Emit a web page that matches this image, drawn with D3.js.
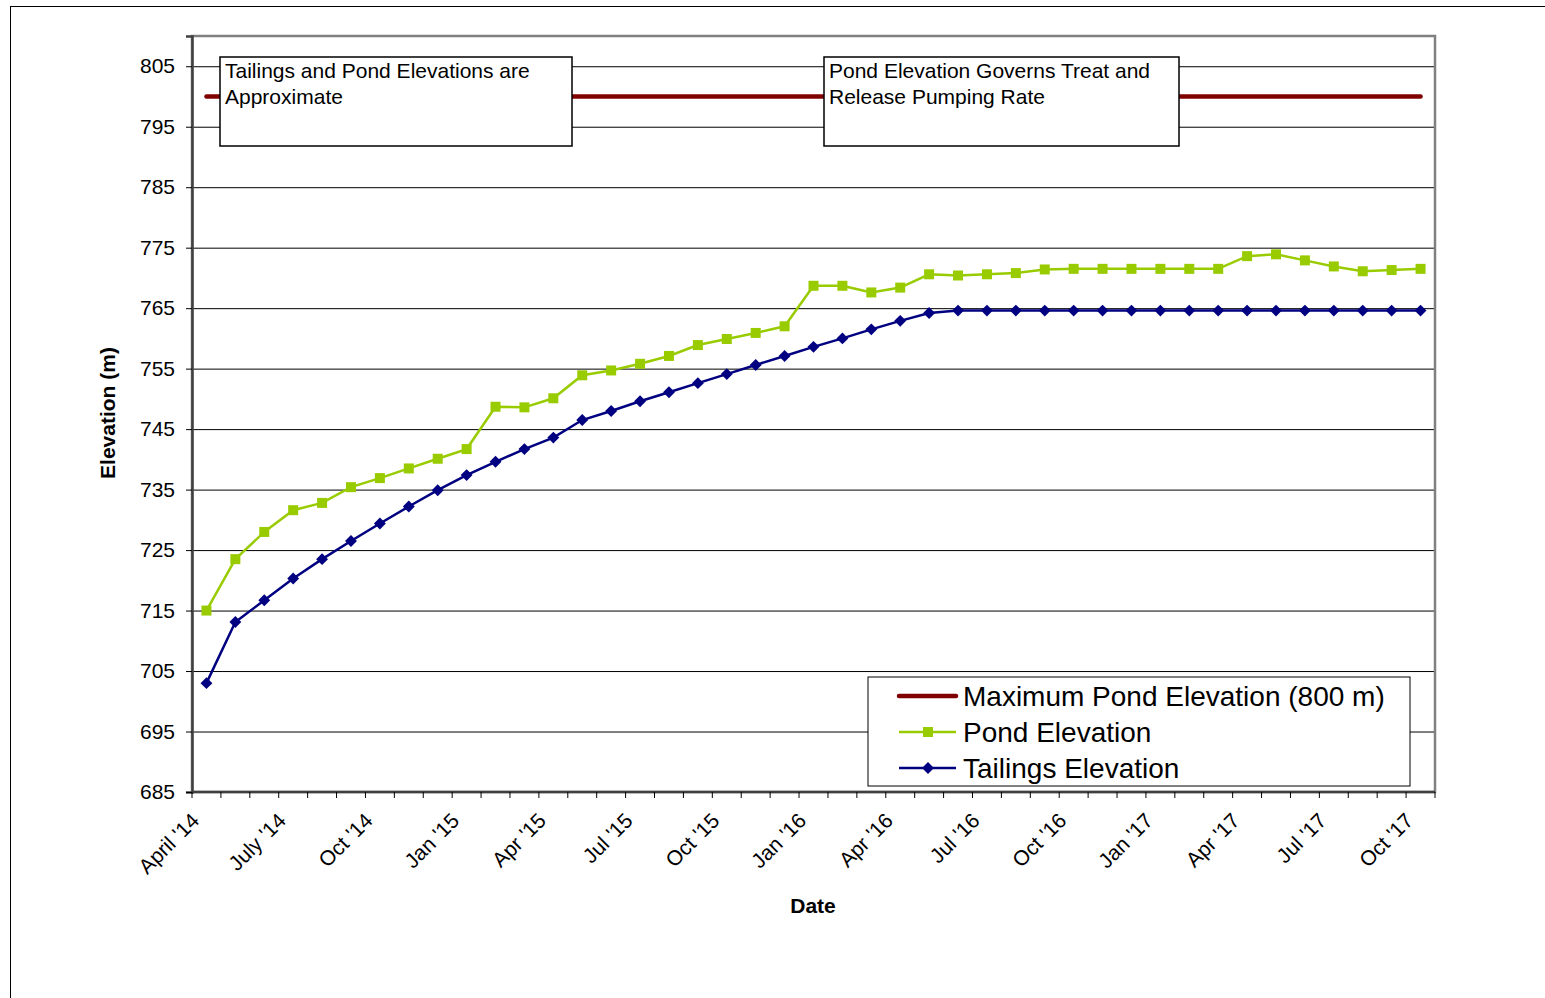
<!DOCTYPE html>
<html>
<head>
<meta charset="utf-8">
<script src="https://cdn.jsdelivr.net/npm/d3@7"></script>
<style>
  html, body { margin: 0; padding: 0; background: #fff; }
  svg { display: block; font-family: "Liberation Sans", Arial, sans-serif; }
</style>
</head>
<body>
<svg id="chart" width="1545" height="998"></svg>
<script>
// ---------- DATA ----------
const months = ["Apr 2014","May 2014","Jun 2014","Jul 2014","Aug 2014","Sep 2014","Oct 2014","Nov 2014","Dec 2014",
  "Jan 2015","Feb 2015","Mar 2015","Apr 2015","May 2015","Jun 2015","Jul 2015","Aug 2015","Sep 2015","Oct 2015","Nov 2015","Dec 2015",
  "Jan 2016","Feb 2016","Mar 2016","Apr 2016","May 2016","Jun 2016","Jul 2016","Aug 2016","Sep 2016","Oct 2016","Nov 2016","Dec 2016",
  "Jan 2017","Feb 2017","Mar 2017","Apr 2017","May 2017","Jun 2017","Jul 2017","Aug 2017","Sep 2017","Oct 2017"];
const tickLabels = ["April '14","","","July '14","","","Oct '14","","","Jan '15","","","Apr '15","","","Jul '15","","","Oct '15","","",
  "Jan '16","","","Apr '16","","","Jul '16","","","Oct '16","","","Jan '17","","","Apr '17","","","Jul '17","","","Oct '17"];
const maxPond = [800,800,800,800,800,800,800,800,800,800,800,800,800,800,800,800,800,800,800,800,800,
  800,800,800,800,800,800,800,800,800,800,800,800,800,800,800,800,800,800,800,800,800,800];
const pond = [715.0,723.5,728.0,731.6,732.8,735.4,736.9,738.5,740.1,741.7,748.7,748.6,750.1,753.9,754.7,755.8,757.1,758.9,759.9,760.9,762.0,
  768.7,768.7,767.6,768.4,770.6,770.4,770.6,770.8,771.4,771.5,771.5,771.5,771.5,771.5,771.5,773.6,773.9,772.9,771.9,771.1,771.3,771.5];
const tailings = [703.0,713.1,716.7,720.3,723.5,726.5,729.4,732.2,734.9,737.4,739.6,741.7,743.6,746.5,748.0,749.6,751.1,752.6,754.1,755.6,757.1,
  758.6,760.0,761.5,762.9,764.2,764.6,764.6,764.6,764.6,764.6,764.6,764.6,764.6,764.6,764.6,764.6,764.6,764.6,764.6,764.6,764.6,764.6];
const yTicks = [685,695,705,715,725,735,745,755,765,775,785,795,805];
const legendNames = ["Maximum Pond Elevation (800 m)","Pond Elevation","Tailings Elevation"];
const notes = [["Tailings and Pond Elevations are","Approximate"],["Pond Elevation Governs Treat and","Release Pumping Rate"]];

// ---------- LAYOUT ----------
const svg = d3.select("#chart");
const L = 192, R = 1435, T = 36, B = 792;
const colors = {max: "#800000", pond: "#99CC00", tail: "#000080"};
const FONT = "Liberation Sans, Arial, sans-serif";

// outer frame
svg.append("rect").attr("x", 10.5).attr("y", 6.5).attr("width", 1560).attr("height", 1010)
  .attr("fill", "#fff").attr("stroke", "#000").attr("stroke-width", 1);

const xBand = d3.scaleBand().domain(months).range([L, R]).padding(0);
const x = d => xBand(d) + xBand.bandwidth() / 2;
const y = d3.scaleLinear().domain([685, 810]).range([B, T]);

// plot area background
svg.append("rect").attr("x", L).attr("y", T).attr("width", R - L).attr("height", B - T).attr("fill", "#fff");

// gridlines
svg.append("g").attr("transform", `translate(${L},0)`)
  .call(d3.axisLeft(y).tickValues(yTicks.filter(v => v > 685)).tickSize(-(R - L)).tickFormat(""))
  .call(g => g.select(".domain").remove())
  .call(g => g.selectAll("line").attr("stroke", "#000").attr("stroke-width", 1));

// plot area border
svg.append("rect").attr("x", L).attr("y", T).attr("width", R - L).attr("height", B - T)
  .attr("fill", "none").attr("stroke", "#808080").attr("stroke-width", 2.5);

// y axis
const yAx = svg.append("g").attr("transform", `translate(${L},0)`)
  .call(d3.axisLeft(y).tickValues(yTicks).tickSize(6).tickPadding(10).tickFormat(d3.format("d")));
yAx.select(".domain").attr("stroke", "#404040").attr("stroke-width", 2.5);
yAx.selectAll(".tick line").attr("stroke", "#000");
yAx.selectAll(".tick text").attr("font-size", 21).attr("fill", "#000")
  .attr("font-family", FONT).attr("dx", -1);

// x axis line and ticks at category boundaries
const xAx = svg.append("g");
xAx.append("line").attr("x1", L).attr("x2", R).attr("y1", B).attr("y2", B)
  .attr("stroke", "#404040").attr("stroke-width", 2.5);
const bounds = months.map(m => xBand(m)).concat([xBand(months[months.length - 1]) + xBand.bandwidth()]);
xAx.selectAll("line.tk").data(bounds).join("line").attr("class", "tk")
  .attr("x1", d => d).attr("x2", d => d).attr("y1", B).attr("y2", B + 6)
  .attr("stroke", "#000").attr("stroke-width", 1);
xAx.selectAll("text").data(months.map((m, i) => ({m, lab: tickLabels[i]})).filter(d => d.lab))
  .join("text")
  .attr("transform", d => `translate(${x(d.m) - 6},${B + 30}) rotate(-45)`)
  .attr("text-anchor", "end").attr("font-size", 21).attr("fill", "#000")
  .text(d => d.lab);

// axis titles
svg.append("text").attr("transform", `translate(115,413) rotate(-90)`)
  .attr("text-anchor", "middle").attr("font-size", 21).attr("font-weight", "bold").text("Elevation (m)");
svg.append("text").attr("x", 813).attr("y", 913).attr("text-anchor", "middle")
  .attr("font-size", 21).attr("font-weight", "bold").text("Date");

// series lines
const line = d3.line().x((d, i) => x(months[i])).y(d => y(d));
svg.append("path").datum(maxPond).attr("d", line).attr("fill", "none")
  .attr("stroke", colors.max).attr("stroke-width", 4.5).attr("stroke-linecap", "round");
svg.append("path").datum(pond).attr("d", line).attr("fill", "none")
  .attr("stroke", colors.pond).attr("stroke-width", 2.5);
svg.append("path").datum(tailings).attr("d", line).attr("fill", "none")
  .attr("stroke", colors.tail).attr("stroke-width", 2.5);

// markers
svg.append("g").selectAll("rect").data(pond).join("rect")
  .attr("x", (d, i) => x(months[i]) - 5).attr("y", d => y(d) - 5)
  .attr("width", 10).attr("height", 10).attr("fill", colors.pond);
const diamond = d3.symbol().type(d3.symbolDiamond2).size(90);
svg.append("g").selectAll("path").data(tailings).join("path")
  .attr("transform", (d, i) => `translate(${x(months[i])},${y(d)})`)
  .attr("d", diamond).attr("fill", colors.tail);

// note boxes
const noteBoxes = [{x: 220, w: 352}, {x: 824, w: 355}];
notes.forEach((lines, k) => {
  const g = svg.append("g").attr("transform", `translate(${noteBoxes[k].x},57)`);
  g.append("rect").attr("width", noteBoxes[k].w).attr("height", 89)
    .attr("fill", "#fff").attr("stroke", "#000").attr("stroke-width", 1.5);
  lines.forEach((t, j) => g.append("text").attr("x", 5).attr("y", 21 + j * 26)
    .attr("font-size", 21).attr("fill", "#000").text(t));
});

// legend
const lg = svg.append("g").attr("transform", "translate(868,677)");
lg.append("rect").attr("width", 542).attr("height", 109).attr("fill", "#fff")
  .attr("stroke", "#000").attr("stroke-width", 1);
const lcol = [colors.max, colors.pond, colors.tail];
legendNames.forEach((n, i) => {
  const cy = 19 + i * 36;
  lg.append("line").attr("x1", 31).attr("x2", 88).attr("y1", cy).attr("y2", cy)
    .attr("stroke", lcol[i]).attr("stroke-width", i === 0 ? 4.5 : 2.5).attr("stroke-linecap", i === 0 ? "round" : "butt");
  if (i === 1) lg.append("rect").attr("x", 55).attr("y", cy - 5).attr("width", 10).attr("height", 10).attr("fill", lcol[i]);
  if (i === 2) lg.append("path").attr("transform", `translate(60,${cy})`).attr("d", diamond).attr("fill", lcol[i]);
  lg.append("text").attr("x", 95).attr("y", cy + 10).attr("font-size", 28).attr("fill", "#000").text(n);
});
</script>
</body>
</html>
